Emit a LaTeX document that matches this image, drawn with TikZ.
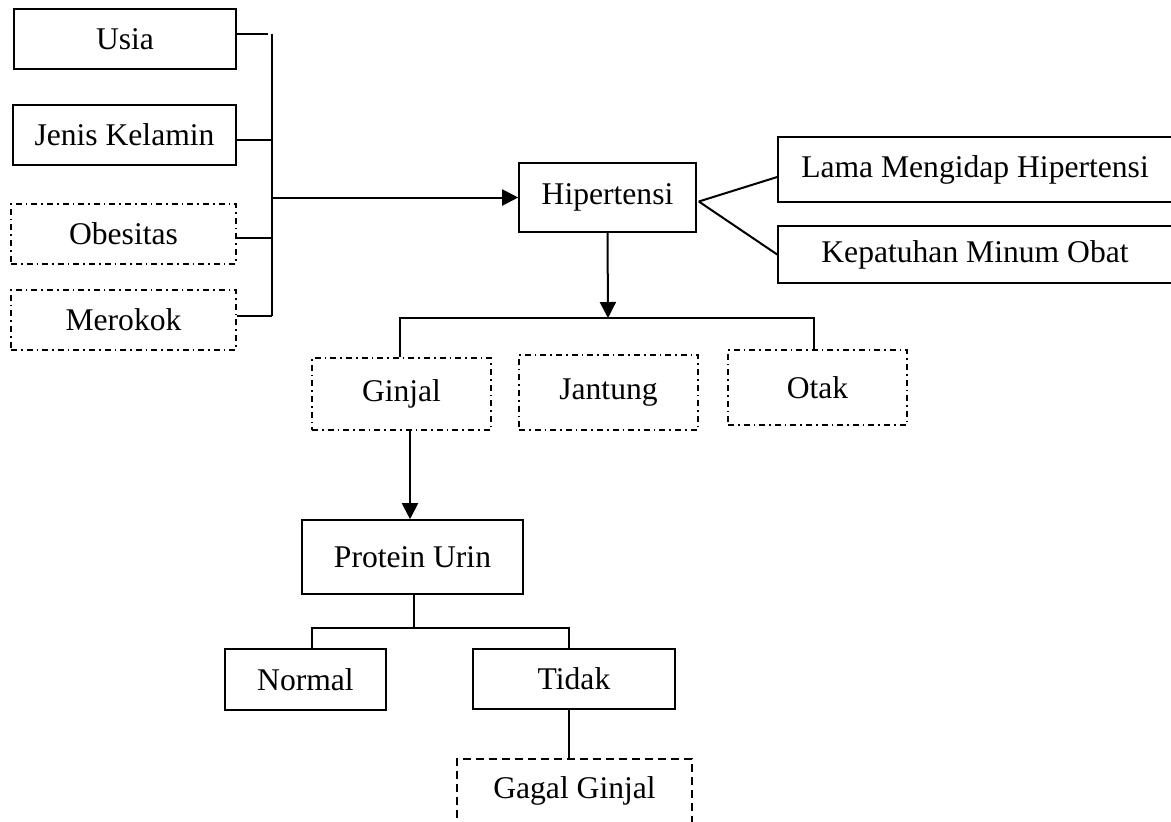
\documentclass[tikz,border=0pt]{standalone}
\usepackage{fontspec}
\setmainfont{Liberation Serif}
\usepackage{tikz}
\usetikzlibrary{arrows.meta,
	calc,
	positioning}
\tikzstyle{bx}=[draw, line width=0.8pt, inner sep=0, font=\fontsize{15.8}{19}\selectfont]
\tikzstyle{dbx}=[bx, dash pattern=on 3pt off 2pt on 0.8pt off 2pt]
\tikzstyle{dsh}=[bx, dash pattern=on 4pt off 2.5pt]
\tikzstyle{ln}=[line width=1pt]
\tikzstyle{arr}=[ln, -{Triangle[length=8pt, width=8pt]}]

\begin{document}
\begin{tikzpicture}[x=0.5pt, y=-0.5pt]
        \useasboundingbox (0,0) rectangle (1171,821);
        \clip (0,0) rectangle (1171,821);
        \node[bx, minimum width=111pt, minimum height=30pt] (usia) at (125,39) {Usia};
        \node[bx, minimum width=111.5pt, minimum height=30pt] (jenis) at (124.5,135) {Jenis Kelamin};
        \node[dbx, minimum width=112.5pt, minimum height=30pt] (obes) at (123.5,234) {Obesitas};
        \node[dbx, minimum width=112.5pt, minimum height=30pt] (rokok) at (123.5,320) {Merokok};
        \node[bx, minimum width=88.5pt, minimum height=34.5pt] (hip) at (607.5,197.5) {Hipertensi};
        \node[bx, minimum width=197pt, minimum height=32.5pt] (lama) at (975,169.5) {Lama Mengidap Hipertensi};
        \node[bx, minimum width=197pt, minimum height=28.5pt] (patuh) at (975,254.5) {Kepatuhan Minum Obat};
        \node[dbx, minimum width=89.5pt, minimum height=36pt] (ginjal) at (401.5,394) {Ginjal};
        \node[dbx, minimum width=89.5pt, minimum height=37.5pt] (jantung) at (608.5,392.5) {Jantung};
        \node[dbx, minimum width=89.5pt, minimum height=37.5pt] (otak) at (817.5,387.5) {Otak};
        \node[bx, minimum width=110.5pt, minimum height=37pt] (urin) at (412.5,557) {Protein Urin};
        \node[bx, minimum width=80.5pt, minimum height=30.5pt] (normal) at (305.5,679.5) {Normal};
        \node[bx, minimum width=101pt, minimum height=30pt] (tidak) at (574,679) {Tidak};
        \node[dsh, minimum width=117.5pt, minimum height=32pt] (gagal) at (574.5,791) {Gagal Ginjal};

        \coordinate (kiri) at (272,197.5);
        \coordinate (bawah) at (608,318);
        \coordinate (cabang) at (414,628);
        \coordinate (fork) at ([xshift=1pt, yshift=-2pt]hip.east);
        \coordinate (u1) at ([yshift=2.5pt]usia.east);
        \coordinate (j1) at ([yshift=-2.5pt]jenis.east);
        \coordinate (o1) at ([yshift=-2pt]obes.east);
        \coordinate (r1) at ([yshift=2pt]rokok.east);
        \coordinate (g1) at ([xshift=4.25pt]ginjal.south);
        \coordinate (p1) at ([xshift=0.75pt]urin.south);
        \coordinate (t1) at ([xshift=-2.5pt]tidak.south);

        \draw[ln] (u1) -- ++(31,0);
        \draw[ln] (j1) -- (j1 -| kiri);
        \draw[ln] (o1) -- (o1 -| kiri);
        \draw[ln] (r1) -- (r1 -| kiri);
        \draw[ln] (u1 -| kiri) -- (r1 -| kiri);
        \draw[arr] (kiri) -- (hip.west);

        \draw[ln] (fork) -- ([yshift=-3.75pt]lama.west);
        \draw[ln] (fork) -- (patuh.west);

        \draw[arr] (hip.south) -- (bawah);
        \draw[ln] ([xshift=-1pt]ginjal.north) |- (bawah) -| ([xshift=-1.75pt]otak.north);

        \draw[arr] (g1) -- (g1 |- urin.north);
        \draw[ln] (p1) -- (p1 |- cabang);
        \draw[ln] ([xshift=3.25pt]normal.north) |- (cabang) -| ([xshift=-2.5pt]tidak.north);
        \draw[ln] (t1) -- (t1 |- gagal.north);
    \end{tikzpicture}
\end{document}
